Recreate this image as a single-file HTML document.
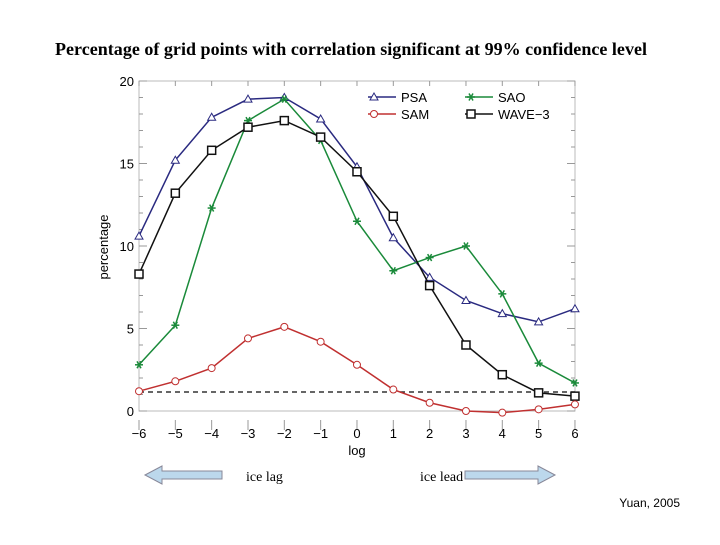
<!DOCTYPE html>
<html><head><meta charset="utf-8"><style>
body{margin:0;background:#fff;width:720px;height:540px;overflow:hidden}
svg text{font-family:"Liberation Sans",sans-serif}
</style></head><body>
<svg width="720" height="540">
<text x="351" y="55" text-anchor="middle" textLength="592" style="font-family:'Liberation Serif',serif;font-weight:bold;font-size:18px">Percentage of grid points with correlation significant at 99% confidence level</text>
<g id="axes"></g>
<g id="series"></g>
<g id="legend"></g>
<polygon points="145,475 162,466 162,471 222,471 222,479 162,479 162,484" fill="#bcd8ec" stroke="#889"/>
<text x="246" y="481" style="font-family:'Liberation Serif',serif;font-size:14px">ice lag</text>
<polygon points="555,475 538,466 538,471 465,471 465,479 538,479 538,484" fill="#bcd8ec" stroke="#889"/>
<text x="420" y="481" style="font-family:'Liberation Serif',serif;font-size:14px">ice lead</text>
<text x="680" y="507" text-anchor="end" style="font-size:12px">Yuan, 2005</text>
</svg>
<script>
const lags=[-6,-5,-4,-3,-2,-1,0,1,2,3,4,5,6];
const yTicks=[0,5,10,15,20];
const psa=[10.6,15.2,17.8,18.9,19.0,17.7,14.8,10.5,8.1,6.7,5.9,5.4,6.2];
const sao=[2.8,5.2,12.3,17.6,18.9,16.4,11.5,8.5,9.3,10.0,7.1,2.9,1.7];
const sam=[1.2,1.8,2.6,4.4,5.1,4.2,2.8,1.3,0.5,0.0,-0.1,0.1,0.4];
const wave3=[8.3,13.2,15.8,17.2,17.6,16.6,14.5,11.8,7.6,4.0,2.2,1.1,0.9];
const threshold=1.15;
const NS='http://www.w3.org/2000/svg';
const X=v=>139+(v+6)*36.33, Y=v=>411-v*16.5;
function mk(t,a,p){const e=document.createElementNS(NS,t);for(const k in a)e.setAttribute(k,a[k]);p.appendChild(e);return e;}
const ax=document.getElementById('axes');
let f=mk('rect',{x:139,y:Y(20),width:436,height:Y(0)-Y(20),fill:'none',stroke:'#bbb','stroke-width':1},ax);


for(let v=-6;v<=6;v++){
 mk('line',{x1:X(v),x2:X(v),y1:Y(20),y2:Y(20)+5,stroke:'#999'},ax);
 mk('line',{x1:X(v),x2:X(v),y1:Y(0)+9,y2:Y(0)+19,stroke:'#999'},ax);
}
lags.forEach(v=>{const t=mk('text',{x:X(v),y:438,'text-anchor':'middle','font-size':13},ax);t.textContent=(v<0?'\u2212':'')+Math.abs(v);

});
for(let v=0;v<=20;v++){
 const l=v%5?4:8;
 mk('line',{x1:139,x2:139+l,y1:Y(v),y2:Y(v),stroke:'#999'},ax);
 mk('line',{x1:575-l,x2:575,y1:Y(v),y2:Y(v),stroke:'#999'},ax);
}
yTicks.forEach(v=>{const t=mk('text',{x:134,y:Y(v)+5,'text-anchor':'end','font-size':13},ax);t.textContent=v;

});
let xt=mk('text',{x:357,y:455,'text-anchor':'middle','font-size':13},ax);xt.textContent='log';


let yt=mk('text',{x:108,y:247,'text-anchor':'middle','font-size':13,transform:'rotate(-90 108 247)'},ax);yt.textContent='percentage';


const sg=document.getElementById('series');
let th=mk('line',{x1:X(-6),x2:X(6),y1:Y(threshold),y2:Y(threshold),stroke:'#333','stroke-dasharray':'5,4','stroke-width':1.5},sg);


function marker(g,type,x,y,c){
 if(type==='tri')mk('polygon',{points:`${x},${y-4} ${x-4},${y+3} ${x+4},${y+3}`,fill:'#fff',stroke:c},g);
 else if(type==='circ')mk('circle',{cx:x,cy:y,r:3.5,fill:'#fff',stroke:c},g);
 else if(type==='sq')mk('rect',{x:x-4,y:y-4,width:8,height:8,fill:'#fff',stroke:c,'stroke-width':1.5},g);
 else{for(const a of [0,60,120])mk('line',{x1:x-4*Math.cos(a*Math.PI/180),y1:y-4*Math.sin(a*Math.PI/180),x2:x+4*Math.cos(a*Math.PI/180),y2:y+4*Math.sin(a*Math.PI/180),stroke:c,'stroke-width':1.5},g);}
}
const ser=[['psa',psa,'#2a2a80','tri'],['sao',sao,'#1a8a3a','star'],['wave-3',wave3,'#111','sq'],['sam',sam,'#c03030','circ']];
ser.forEach(([n,d,c,m])=>{
 const g=mk('g',{},sg);
 
 
 mk('polyline',{points:d.map((v,i)=>X(lags[i])+','+Y(v)).join(' '),fill:'none',stroke:c,'stroke-width':1.5},g);
 d.forEach((v,i)=>marker(g,m,X(lags[i]),Y(v),c));
});
const lg=document.getElementById('legend');
[['PSA','#2a2a80','tri',368,97],['SAO','#1a8a3a','star',465,97],['SAM','#c03030','circ',368,114],['WAVE\u22123','#111','sq',465,114]].forEach(([n,c,m,x,y])=>{
 const g=mk('g',{},lg);
 
 
 mk('line',{x1:x,x2:x+28,y1:y,y2:y,stroke:c,'stroke-width':1.5},g);
 marker(g,m,x+6,y,c);
 const t=mk('text',{x:x+33,y:y+5,'font-size':13},g);t.textContent=n;
});
</script>
</body></html>
